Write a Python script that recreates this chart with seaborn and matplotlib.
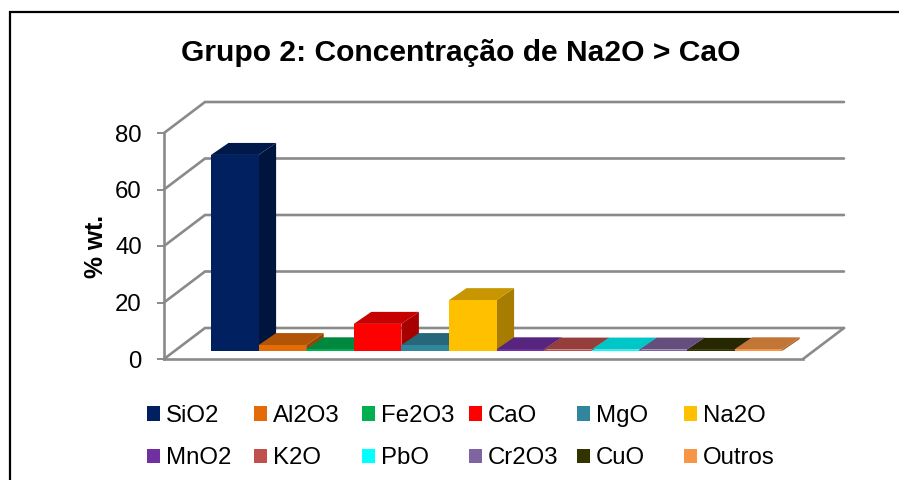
import matplotlib
matplotlib.use("Agg")
import matplotlib.pyplot as plt
from matplotlib.colors import to_rgb
from matplotlib.patches import Patch, Polygon
from matplotlib.transforms import Affine2D
import pandas as pd
import seaborn as sns

oxides = ["SiO2", "Al2O3", "Fe2O3", "CaO", "MgO", "Na2O",
          "MnO2", "K2O", "PbO", "Cr2O3", "CuO", "Outros"]
values = [69.4, 2.1, 0.6, 9.6, 2.1, 18.0, 0.6, 0.5, 0.5, 0.5, 0.4, 0.6]
colors = ["#002060", "#E36C09", "#00B050", "#FF0000", "#31859C", "#FFC000",
          "#7030A0", "#C0504D", "#00FFFF", "#8064A2", "#333300", "#F79646"]
yticks = [0, 20, 40, 60, 80]
title = "Grupo 2: Concentração de Na2O > CaO"
ylabel = "% wt."

W, H = 899, 480
sns.set_theme(style="white")
plt.rcParams["font.family"] = ["Liberation Sans", "DejaVu Sans"]
fig = plt.figure(figsize=(W / 100, H / 100), dpi=100, facecolor="white")

# plot box in pixels: front plane of the 3-D box
LEFT, RIGHT, TOP, BOTTOM = 164, 803, 133, 359
ax = fig.add_axes([LEFT / W, 1 - BOTTOM / H, (RIGHT - LEFT) / W, (BOTTOM - TOP) / H])
df = pd.DataFrame({"oxide": oxides, "wt": values})
sns.barplot(data=df, x="oxide", y="wt", hue="oxide", order=oxides, hue_order=oxides,
            palette=colors, saturation=1, width=1, dodge=False, legend=False, ax=ax)

PX_X = 47.6            # pixels per category
PX_Y = (BOTTOM - TOP) / 80
x_lo = -0.5 - (211 - LEFT) / PX_X
x_hi = x_lo + (RIGHT - LEFT) / PX_X
ax.set_xlim(x_lo, x_hi)
ax.set_ylim(0, 80)

GREY = "#8A8A8A"
LW = 1.9
wall_dx, wall_dy = 41 / PX_X, 31 / PX_Y
for g in yticks:
    ax.plot([x_lo, x_lo + wall_dx, x_hi + wall_dx], [g, g + wall_dy, g + wall_dy],
            color=GREY, lw=LW, clip_on=False, zorder=1, solid_joinstyle="miter")
ax.plot([x_hi, x_hi + wall_dx], [0, wall_dy], color=GREY, lw=LW, clip_on=False, zorder=1)

# bars sit a little above the front edge of the floor; add their 3-D faces
lift = ax.transData + Affine2D().translate(0, 8)
depth_x, depth_y = 17.5 / PX_X, 12 / PX_Y
for i, bar in enumerate(list(ax.patches)):
    x0, x1, h = bar.get_x(), bar.get_x() + bar.get_width(), bar.get_height()
    rgb = to_rgb(colors[i])
    bar.set_transform(lift)
    bar.set_clip_on(False)
    bar.set_edgecolor("none")
    bar.set_zorder(3 + i + 0.5)
    top = Polygon([(x0, h), (x1, h), (x1 + depth_x, h + depth_y), (x0 + depth_x, h + depth_y)],
                  closed=True, fc=tuple(c * 0.78 for c in rgb), ec="none",
                  transform=lift, clip_on=False, zorder=3 + i)
    side = Polygon([(x1, 0), (x1, h), (x1 + depth_x, h + depth_y), (x1 + depth_x, depth_y)],
                   closed=True, fc=tuple(c * 0.65 for c in rgb), ec="none",
                   transform=lift, clip_on=False, zorder=3 + i)
    ax.add_patch(side)
    ax.add_patch(top)

for s in ("top", "right"):
    ax.spines[s].set_visible(False)
for s in ("left", "bottom"):
    ax.spines[s].set_color(GREY)
    ax.spines[s].set_linewidth(LW)
ax.set_xticks([])
ax.set_yticks(yticks)
ax.tick_params(axis="y", left=True, length=5, width=1.4, color=GREY, labelsize=17.3,
               labelcolor="black", pad=11)
ax.set_xlabel("")
ax.set_ylabel(ylabel, fontsize=17.8, fontweight="bold", color="black", labelpad=5)
ax.patch.set_alpha(0)

fig.text(461 / W, 1 - 53 / H, title, fontsize=21.6, fontweight="bold", color="black",
         ha="center", va="center")

# chart frame
fig.add_artist(plt.Line2D([9.5 / W, 9.5 / W, 1], [0, 1 - 12 / H, 1 - 12 / H],
                          color="black", lw=1.6, transform=fig.transFigure,
                          solid_joinstyle="miter"))

# legend: one block per column so that columns stay evenly spaced
for c in range(6):
    idx = [c, c + 6]
    handles = [Patch(fc=colors[i], ec="none") for i in idx]
    fig.legend(handles, [oxides[i] for i in idx], loc="upper left",
               bbox_to_anchor=((147 + c * 107.4) / W, 1 - 405 / H),
               bbox_transform=fig.transFigure, frameon=False, fontsize=17.3, ncol=1,
               handlelength=0.54, handleheight=0.54, handletextpad=0.25,
               labelspacing=0.85, borderpad=0, borderaxespad=0, labelcolor="black")

fig.savefig("out.png", dpi=100)
